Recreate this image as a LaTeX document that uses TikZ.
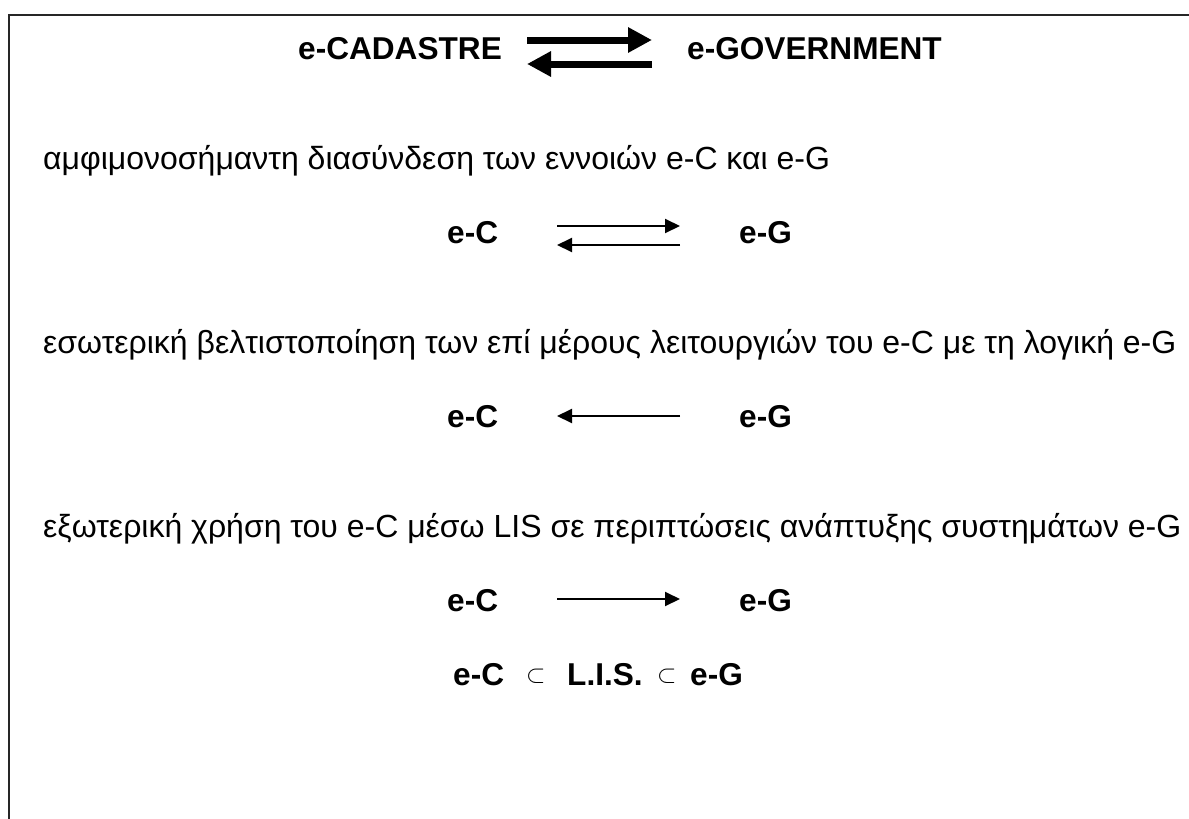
\documentclass[tikz,border=0pt]{standalone}
\usepackage{fontspec}
\setmainfont{Liberation Sans}
\usetikzlibrary{arrows.meta}
\begin{document}
\begin{tikzpicture}[x=1pt,y=-1pt,
  txt/.style={anchor=base west,inner sep=0pt,font=\fontsize{32}{38}\selectfont},
  bold/.style={anchor=base west,inner sep=0pt,font=\fontsize{31.6}{38}\selectfont\bfseries},
  subsetsign/.style={anchor=base west,inner sep=0pt,font=\fontsize{27}{32}\selectfont},
  bigarrow/.style={line width=7pt,-{Triangle[length=24pt,width=24pt]}},
  thinarrow/.style={line width=2pt,-{Triangle[length=15pt,width=14pt]}},
  frameline/.style={line width=2pt,draw=black!85}]
\useasboundingbox (0,0) rectangle (1189,819);
\fill[white] (0,0) rectangle (1189,819);
% open frame: top and left edges only
\draw[frameline] (9,819) -- (9,15) -- (1189,15);

% heading
\node[bold] (tC) at (298,59) {e-CADASTRE};
\node[bold] (tG) at (687,59) {e-GOVERNMENT};
\coordinate (ta1) at (527,40);  \coordinate (ta2) at (652,40);
\coordinate (tb1) at (652,64);  \coordinate (tb2) at (527,64);
\draw[bigarrow] (ta1) -- (ta2);
\draw[bigarrow] (tb1) -- (tb2);

% case 1: two-way link
\node[txt] (l1) at (43,169) {αμφιμονοσήμαντη διασύνδεση των εννοιών e-C και e-G};
\node[bold] (c1) at (447,243) {e-C};
\node[bold] (g1) at (739,243) {e-G};
\coordinate (p1a) at (557,226); \coordinate (p1b) at (680,226);
\coordinate (p1c) at (680,245); \coordinate (p1d) at (557,245);
\draw[thinarrow] (p1a) -- (p1b);
\draw[thinarrow] (p1c) -- (p1d);

% case 2: e-G acting on e-C
\node[txt] (l2) at (43,353) {εσωτερική βελτιστοποίηση των επί μέρους λειτουργιών του e-C με τη λογική e-G};
\node[bold] (c2) at (447,427) {e-C};
\node[bold] (g2) at (739,427) {e-G};
\coordinate (p2a) at (680,416); \coordinate (p2b) at (557,416);
\draw[thinarrow] (p2a) -- (p2b);

% case 3: e-C feeding e-G through LIS
\node[txt] (l3) at (43,537) {εξωτερική χρήση του e-C μέσω LIS σε περιπτώσεις ανάπτυξης συστημάτων e-G};
\node[bold] (c3) at (447,611) {e-C};
\node[bold] (g3) at (739,611) {e-G};
\coordinate (p3a) at (557,599); \coordinate (p3b) at (680,599);
\draw[thinarrow] (p3a) -- (p3b);

% inclusion chain
\node[bold] (c4) at (453,685) {e-C};
\node[subsetsign] (s1) at (526,682) {$\subset$};
\node[bold] (lis) at (567,685) {L.I.S.};
\node[subsetsign] (s2) at (657,682) {$\subset$};
\node[bold] (g4) at (690,685) {e-G};
\end{tikzpicture}
\end{document}
